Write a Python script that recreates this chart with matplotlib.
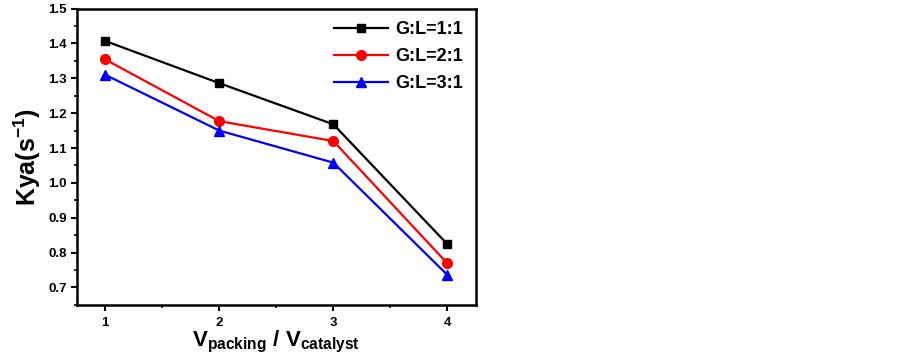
import matplotlib
matplotlib.use("Agg")
import matplotlib.pyplot as plt
from matplotlib.ticker import MultipleLocator

plt.rcParams['font.family'] = ['Liberation Sans', 'DejaVu Sans']
plt.rcParams['font.weight'] = 'bold'
plt.rcParams['mathtext.fontset'] = 'custom'
plt.rcParams['mathtext.rm'] = 'Liberation Sans:bold'
plt.rcParams['mathtext.it'] = 'Liberation Sans:bold'
plt.rcParams['mathtext.bf'] = 'Liberation Sans:bold'

x = [1, 2, 3, 4]
gl_1_1 = [1.407, 1.286, 1.168, 0.824]
gl_2_1 = [1.354, 1.177, 1.120, 0.769]
gl_3_1 = [1.310, 1.150, 1.058, 0.736]
labels = ["G:L=1:1", "G:L=2:1", "G:L=3:1"]

fig = plt.figure(figsize=(9.03, 3.57), dpi=100)
ax = fig.add_axes([0.085, 0.146, 0.442, 0.830])

ax.plot(x, gl_1_1, color='black', marker='s', markersize=6, lw=1.6, label=labels[0])
ax.plot(x, gl_2_1, color='red', marker='o', markersize=7, lw=1.6, label=labels[1])
ax.plot(x, gl_3_1, color='blue', marker='^', markersize=7, lw=1.6, label=labels[2])

ax.set_xlim(0.75, 4.25)
ax.set_ylim(0.65, 1.5)
ax.xaxis.set_major_locator(MultipleLocator(1))
ax.xaxis.set_minor_locator(MultipleLocator(0.5))
ax.yaxis.set_minor_locator(MultipleLocator(0.05))
ax.set_yticks([0.7, 0.8, 0.9, 1.0, 1.1, 1.2, 1.3, 1.4, 1.5])
ax.set_yticklabels(['0.7', '0.8', '0.9', '1.0', '1.1', '1.2', '1.3', '1.4', '1.5'])

for s in ax.spines.values():
    s.set_linewidth(1.8)
ax.tick_params(axis='both', which='major', direction='out', length=4, width=1.5, labelsize=9.5)
ax.tick_params(axis='both', which='minor', direction='out', length=2.5, width=1.2)
ax.tick_params(axis='x', pad=5)
ax.tick_params(axis='y', pad=3)
for lab in ax.get_xticklabels() + ax.get_yticklabels():
    lab.set_fontweight('bold')

ax.set_ylabel(r'Kya(s$^{-1}$)', fontsize=18, fontweight='bold', labelpad=4)
ax.set_xlabel(r'V$_{packing}$ / V$_{catalyst}$', fontsize=16, fontweight='bold', labelpad=0)

leg = ax.legend(loc='upper right', frameon=False, handlelength=3.0,
                handletextpad=0.4, labelspacing=0.55, borderaxespad=0.3,
                prop={'weight': 'bold', 'size': 13})

fig.savefig('out.png', dpi=100)
